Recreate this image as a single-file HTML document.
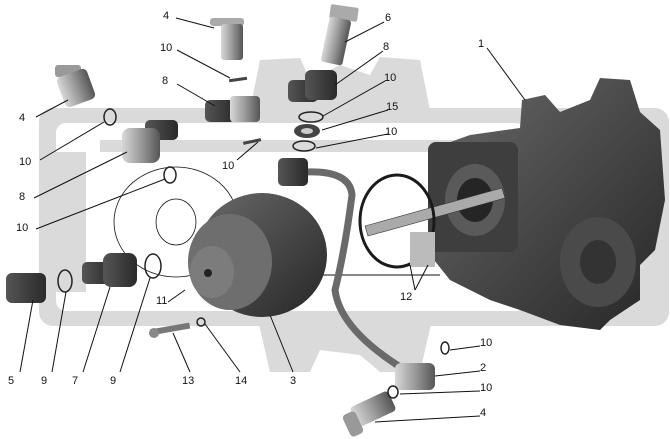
<!DOCTYPE html>
<html><head><meta charset="utf-8"><style>
html,body{margin:0;padding:0;background:#fff;}
svg{display:block;}
text{font-family:"Liberation Sans",sans-serif;font-size:11px;fill:#111;}
</style></head><body>
<svg width="670" height="439" viewBox="0 0 670 439" xmlns="http://www.w3.org/2000/svg">
<defs>
<linearGradient id="g1" x1="0" y1="0" x2="1" y2="1"><stop offset="0" stop-color="#6a6a6a"/><stop offset="1" stop-color="#262626"/></linearGradient>
<linearGradient id="g2" x1="0" y1="0" x2="1" y2="0"><stop offset="0" stop-color="#d8d8d8"/><stop offset="0.5" stop-color="#9a9a9a"/><stop offset="1" stop-color="#555"/></linearGradient>
<linearGradient id="g3" x1="0" y1="0" x2="1" y2="0"><stop offset="0" stop-color="#555"/><stop offset="1" stop-color="#2a2a2a"/></linearGradient>
</defs>
<path d="M250 110 L260 60 L300 58 L310 80 L340 65 L370 75 L380 57 L420 60 L430 110 Z" fill="#dadada"/>
<path d="M258 320 L270 372 L310 372 L320 350 L360 355 L380 372 L420 372 L432 320 Z" fill="#dadada"/>
<rect x="39" y="108" width="630" height="218" rx="14" fill="#dadada"/>
<rect x="56" y="123" width="470" height="188" rx="10" fill="#fff"/>
<rect x="100" y="140" width="420" height="12" fill="#dadada"/>
<rect x="56" y="152" width="30" height="140" fill="#dadada"/>
<ellipse cx="176" cy="222" rx="62" ry="55" fill="none" stroke="#111" stroke-width="0.8"/>
<ellipse cx="176" cy="222" rx="20" ry="23" fill="none" stroke="#111" stroke-width="0.8"/>
<line x1="270" y1="275" x2="440" y2="275" stroke="#111" stroke-width="1"/>
<path d="M428 150 L470 135 L520 128 L522 100 L545 95 L560 112 L590 100 L600 78 L630 80 L640 112 L660 130 L665 200 L655 250 L640 265 L640 300 L610 320 L600 330 L560 325 L520 310 L490 300 L450 280 L430 255 Z" fill="url(#g1)"/>
<rect x="428" y="142" width="90" height="110" rx="8" fill="#3e3e3e"/>
<ellipse cx="475" cy="200" rx="30" ry="36" fill="#5a5a5a"/>
<ellipse cx="475" cy="200" rx="18" ry="22" fill="#252525"/>
<ellipse cx="598" cy="262" rx="38" ry="45" fill="#4a4a4a"/>
<ellipse cx="598" cy="262" rx="18" ry="22" fill="#333"/>
<polygon points="365,226 502,188 505,198 368,236" fill="#aaa" stroke="#333" stroke-width="0.6"/>
<ellipse cx="397" cy="221" rx="37" ry="46" fill="none" stroke="#1a1a1a" stroke-width="3"/>
<rect x="410" y="232" width="25" height="35" fill="#bbb"/>
<ellipse cx="262" cy="255" rx="65" ry="62" fill="url(#g1)"/>
<ellipse cx="230" cy="262" rx="42" ry="48" fill="#6e6e6e"/>
<ellipse cx="212" cy="272" rx="22" ry="26" fill="#7c7c7c"/>
<circle cx="208" cy="273" r="4" fill="#222"/>
<path d="M305 172 Q350 170 352 195 Q345 250 335 290 Q340 330 405 370" fill="none" stroke="#6a6a6a" stroke-width="7"/>
<rect x="395" y="363" width="40" height="27" rx="6" fill="url(#g2)"/>
<rect x="278" y="158" width="30" height="28" rx="5" fill="url(#g3)"/>
<rect x="210" y="18" width="34" height="8" rx="3" fill="#aaa"/>
<rect x="221" y="24" width="22" height="36" rx="3" fill="url(#g2)"/>
<rect x="330" y="6" width="28" height="14" rx="2" fill="#aaa" transform="rotate(8 344 13)"/>
<rect x="325" y="18" width="22" height="46" rx="3" fill="url(#g2)" transform="rotate(12 336 41)"/>
<rect x="55" y="65" width="26" height="12" rx="3" fill="#999"/>
<rect x="60" y="72" width="32" height="32" rx="5" fill="url(#g2)" transform="rotate(-20 76 88)"/>
<rect x="205" y="100" width="30" height="22" rx="5" fill="url(#g3)"/>
<rect x="230" y="96" width="30" height="26" rx="4" fill="url(#g2)"/>
<rect x="288" y="80" width="30" height="22" rx="5" fill="url(#g3)"/>
<rect x="305" y="70" width="32" height="30" rx="6" fill="url(#g3)"/>
<rect x="145" y="120" width="33" height="20" rx="5" fill="url(#g3)"/>
<rect x="122" y="128" width="38" height="35" rx="8" fill="url(#g2)"/>
<rect x="6" y="273" width="40" height="30" rx="6" fill="url(#g3)"/>
<rect x="82" y="262" width="30" height="22" rx="5" fill="url(#g3)"/>
<rect x="103" y="253" width="34" height="34" rx="8" fill="url(#g3)"/>
<rect x="352" y="398" width="42" height="22" rx="4" fill="url(#g2)" transform="rotate(-25 373 409)"/>
<rect x="346" y="412" width="14" height="24" rx="4" fill="#999" transform="rotate(-25 353 424)"/>
<rect x="150" y="326" width="40" height="6" fill="#777" transform="rotate(-10 170 329)"/>
<circle cx="154" cy="333" r="5" fill="#888"/>
<rect x="229" y="78" width="18" height="3" fill="#444" transform="rotate(-8 238 79)"/>
<rect x="243" y="140" width="18" height="3" fill="#444" transform="rotate(-12 252 141)"/>
<g fill="none" stroke="#222" stroke-width="1.5">
<ellipse cx="110" cy="117" rx="6" ry="8"/><ellipse cx="170" cy="175" rx="6" ry="8"/>
<ellipse cx="65" cy="281" rx="7" ry="11"/><ellipse cx="153" cy="266" rx="8" ry="12"/>
<ellipse cx="311" cy="117" rx="12" ry="5"/><ellipse cx="304" cy="146" rx="11" ry="5"/>
<ellipse cx="445" cy="348" rx="4" ry="6"/><ellipse cx="393" cy="392" rx="5" ry="6"/>
<circle cx="201" cy="322" r="4"/>
</g>
<ellipse cx="307" cy="131" rx="13" ry="7" fill="#444"/><ellipse cx="307" cy="131" rx="6" ry="3" fill="#ccc"/>
<g stroke="#111" stroke-width="1" fill="none">
<line x1="176" y1="18" x2="214" y2="28"/><line x1="384" y1="22" x2="345" y2="42"/>
<line x1="487" y1="48" x2="525" y2="100"/><line x1="177" y1="50" x2="230" y2="78"/>
<line x1="383" y1="51" x2="335" y2="85"/><line x1="177" y1="84" x2="215" y2="106"/>
<line x1="36" y1="117" x2="68" y2="100"/><line x1="385" y1="81" x2="323" y2="116"/>
<line x1="388" y1="110" x2="322" y2="130"/><line x1="388" y1="134" x2="316" y2="148"/>
<line x1="40" y1="160" x2="104" y2="122"/><line x1="237" y1="160" x2="258" y2="142"/>
<line x1="34" y1="198" x2="127" y2="152"/><line x1="36" y1="229" x2="165" y2="179"/>
<line x1="415" y1="290" x2="410" y2="265"/><line x1="415" y1="290" x2="428" y2="265"/>
<line x1="168" y1="302" x2="185" y2="290"/>
<line x1="20" y1="372" x2="33" y2="300"/><line x1="52" y1="372" x2="66" y2="292"/>
<line x1="83" y1="372" x2="110" y2="287"/><line x1="120" y1="372" x2="150" y2="278"/>
<line x1="190" y1="372" x2="173" y2="333"/><line x1="240" y1="372" x2="205" y2="324"/>
<line x1="293" y1="372" x2="270" y2="315"/><line x1="480" y1="346" x2="450" y2="350"/>
<line x1="480" y1="371" x2="435" y2="376"/><line x1="480" y1="391" x2="400" y2="394"/>
<line x1="480" y1="416" x2="375" y2="422"/>
</g>
<text x="163" y="19">4</text><text x="385" y="21">6</text><text x="478" y="47">1</text>
<text x="160" y="51">10</text><text x="383" y="50">8</text><text x="162" y="84">8</text>
<text x="19" y="121">4</text><text x="384" y="81">10</text><text x="386" y="110">15</text>
<text x="385" y="135">10</text><text x="19" y="165">10</text><text x="222" y="169">10</text>
<text x="19" y="200">8</text><text x="16" y="231">10</text><text x="400" y="300">12</text>
<text x="156" y="304">11</text><text x="8" y="384">5</text><text x="41" y="384">9</text>
<text x="72" y="384">7</text><text x="110" y="384">9</text><text x="182" y="384">13</text>
<text x="235" y="384">14</text><text x="290" y="384">3</text><text x="480" y="346">10</text>
<text x="480" y="371">2</text><text x="480" y="391">10</text><text x="480" y="416">4</text>
</svg>
</body></html>
